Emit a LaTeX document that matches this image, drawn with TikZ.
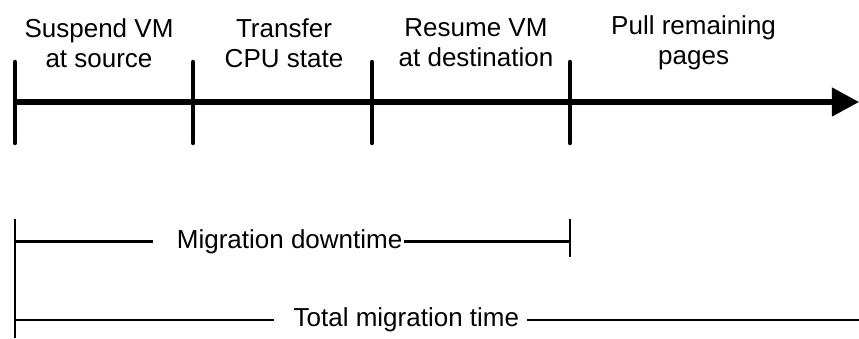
\documentclass[tikz,border=0pt]{standalone}
\usepackage{fontspec}
\setmainfont{Liberation Sans}
\usetikzlibrary{arrows.meta}

\begin{document}
\begin{tikzpicture}[
    phase/.style={align=center, font=\fontsize{18.5}{21.4}\selectfont},
    span/.style={inner sep=1pt, font=\fontsize{18.5}{21.4}\selectfont},
    axis/.style={line width=3.6pt},
    tick/.style={line width=3.2pt, line cap=round},
    bar/.style={line width=1.6pt}
  ]
  \useasboundingbox (0,0) rectangle (21.475,8.45);

  % time axis
  \coordinate (AxisStart) at (0.375,5.9);
  \coordinate (AxisEnd) at (21.475,5.9);
  \draw[axis,-{Triangle[length=0.68cm,width=0.7cm]}] (AxisStart) -- (AxisEnd);

  \coordinate (SuspendTop) at (0.375,6.9);
  \coordinate (SuspendBottom) at (0.375,4.875);
  \coordinate (TransferTop) at (4.825,6.9);
  \coordinate (TransferBottom) at (4.825,4.875);
  \coordinate (ResumeTop) at (9.3,6.9);
  \coordinate (ResumeBottom) at (9.3,4.875);
  \coordinate (PullTop) at (14.25,6.9);
  \coordinate (PullBottom) at (14.25,4.875);

  \draw[tick] (SuspendTop) -- (SuspendBottom);
  \draw[tick] (TransferTop) -- (TransferBottom);
  \draw[tick] (ResumeTop) -- (ResumeBottom);
  \draw[tick] (PullTop) -- (PullBottom);

  \node[phase] (Suspend) at (2.475,7.375) {Suspend VM\\at source};
  \node[phase] (Transfer) at (7.1,7.375) {Transfer\\CPU state};
  \node[phase] (Resume) at (11.9,7.375) {Resume VM\\at destination};
  \node[phase] (Pull) at (17.34,7.375) {Pull remaining\\pages};

  % spans
  \coordinate (BarTop) at (0.375,2.975);
  \coordinate (BarBottom) at (0.375,0);
  \draw[bar] (BarTop) -- (BarBottom);

  \node[span] (Downtime) at (7.24,2.41) {Migration downtime};
  \coordinate (DowntimeStart) at (0.375,2.41);
  \coordinate (DowntimeEnd) at (14.25,2.41);
  \coordinate (DowntimeEndTop) at (14.25,2.975);
  \coordinate (DowntimeEndBottom) at (14.25,2.025);
  \draw[bar] (DowntimeStart) -- ([xshift=-0.55cm]Downtime.west);
  \draw[bar] (Downtime.east) -- (DowntimeEnd);
  \draw[bar] (DowntimeEndTop) -- (DowntimeEndBottom);

  \node[span] (Total) at (10.16,0.45) {Total migration time};
  \coordinate (TotalStart) at (0.375,0.45);
  \coordinate (TotalEnd) at (21.475,0.45);
  \draw[bar] (TotalStart) -- ([xshift=-0.45cm]Total.west);
  \draw[bar] ([xshift=0.15cm]Total.east) -- (TotalEnd);
\end{tikzpicture}
\end{document}
